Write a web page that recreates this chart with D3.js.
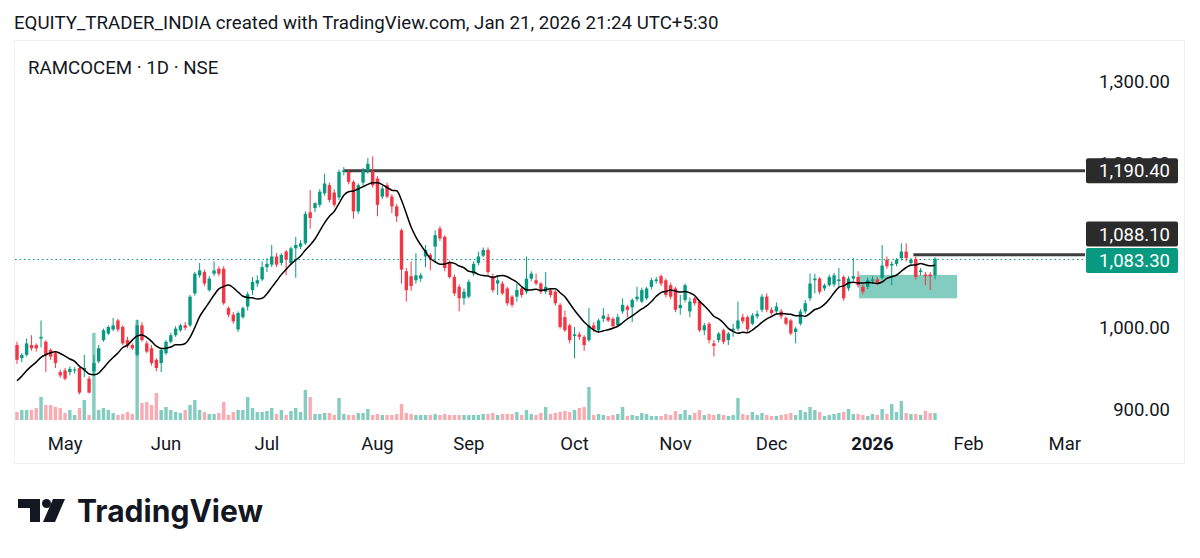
<!DOCTYPE html>
<html>
<head>
<meta charset="utf-8">
<script src="https://cdn.jsdelivr.net/npm/d3@7"></script>
<style>
  html, body { margin: 0; padding: 0; background: #fff; }
  svg { display: block; font-family: Roboto, "Noto Sans", sans-serif; }
</style>
</head>
<body>
<svg id="chart" width="1200" height="558"></svg>
<script>
// daily bars, RAMCOCEM (NSE), mid-Apr 2025 .. 21 Jan 2026
var opens = [978,962,966,978,978,986,982,972,968,945,947,945,947,950,947,937,946,958,984,992,
  997,1008,1000,984,978,966,1002,980,974,960,956,968,982,990,996,1002,1002,1041,1063,1067,
  1045,1065,1071,1071,1023,1015,997,1012,1025,1045,1053,1058,1073,1076,1086,1078,1092,1078,1096,1098,
  1102,1140,1145,1149,1163,1173,1164,1158,1189,1189,1177,1141,1176,1190,1190,1181,1159,1173,1159,1147,
  1118,1068,1062,1057,1059,1086,1088,1098,1120,1110,1078,1061,1049,1035,1037,1065,1078,1087,1094,1062,
  1053,1053,1047,1037,1037,1047,1043,1059,1057,1053,1043,1045,1043,1027,1012,1002,989,991,988,984,
  1002,996,1010,1012,1010,1002,1019,1025,1024,1034,1031,1035,1049,1056,1062,1057,1051,1047,1023,1033,
  1019,1035,1031,996,1004,980,984,996,984,996,998,1012,1012,1004,1013,1021,1037,1021,1019,1019,
  1011,1008,994,1004,1019,1035,1057,1059,1047,1051,1052,1056,1061,1047,1059,1061,1049,1049,1056,1058,
  1060,1082,1075,1077,1084,1092,1078,1083,1067,1064,1064,1063];
var highs = [982,968,986,990,980,1008,984,974,970,948,950,952,951,952,966,940,966,978,998,1002,
  1011,1010,1002,988,980,1009,1006,983,978,962,974,984,993,1001,1004,1006,1039,1067,1078,1070,
  1062,1080,1074,1074,1025,1018,1019,1025,1043,1061,1063,1080,1084,1100,1090,1090,1094,1098,1110,1106,
  1141,1167,1152,1168,1187,1176,1168,1192,1195,1192,1179,1175,1194,1206,1208,1184,1172,1176,1162,1150,
  1120,1072,1080,1090,1066,1100,1090,1118,1123,1112,1081,1064,1052,1047,1058,1080,1092,1097,1097,1065,
  1063,1056,1049,1039,1053,1050,1086,1068,1065,1055,1067,1047,1045,1029,1020,1004,1000,994,990,1023,
  1006,1010,1023,1016,1012,1016,1035,1027,1035,1049,1048,1049,1060,1061,1064,1059,1054,1049,1039,1053,
  1036,1037,1033,1005,1006,984,994,998,994,1004,1031,1016,1014,1017,1020,1040,1041,1024,1030,1022,
  1013,1010,1000,1022,1033,1065,1065,1061,1053,1064,1066,1072,1063,1062,1084,1068,1052,1060,1062,1061,
  1100,1086,1080,1084,1102,1102,1084,1086,1072,1067,1067,1085];
var lows = [955,957,964,971,970,975,945,960,950,938,935,941,943,918,939,919,941,956,982,990,
  995,994,978,974,972,964,982,968,953,946,945,966,980,988,994,996,1000,1038,1060,1050,
  1043,1062,1062,1027,1012,1004,994,1010,1020,1039,1049,1056,1067,1073,1073,1075,1063,1076,1060,1095,
  1100,1120,1140,1146,1160,1152,1146,1155,1185,1174,1132,1138,1173,1187,1170,1135,1156,1157,1139,1128,
  1053,1031,1044,1053,1055,1073,1069,1078,1105,1068,1059,1038,1019,1027,1035,1062,1075,1085,1064,1042,
  1039,1039,1026,1024,1031,1036,1040,1056,1051,1040,1040,1036,1026,998,994,980,962,984,971,982,
  994,993,1006,1006,998,1000,1016,1012,1006,1031,1029,1033,1046,1053,1050,1036,1034,1018,1015,1030,
  1012,1026,994,990,980,964,981,979,978,988,995,1004,994,1002,1010,1018,1018,1014,1016,1010,
  1002,990,980,1002,1016,1032,1041,1040,1044,1049,1049,1049,1032,1044,1056,1048,1040,1046,1053,1051,
  1058,1071,1051,1074,1081,1080,1075,1058,1063,1051,1045,1058];
var closes = [960,966,980,974,974,988,966,964,956,941,937,949,948,920,950,920,956,974,996,1000,
  1002,997,980,977,974,1002,984,970,956,950,972,982,990,998,1002,999,1037,1065,1069,1053,
  1059,1069,1065,1029,1015,1007,1017,1023,1040,1055,1057,1073,1077,1086,1076,1088,1082,1096,1100,1102,
  1138,1133,1151,1165,1175,1155,1149,1189,1191,1177,1141,1173,1191,1199,1173,1149,1169,1159,1147,1135,
  1070,1045,1050,1063,1063,1094,1084,1112,1108,1072,1061,1041,1035,1043,1055,1077,1086,1094,1067,1045,
  1057,1041,1029,1027,1045,1039,1059,1065,1053,1043,1049,1039,1029,1000,996,984,991,988,978,1002,
  997,1008,1014,1008,1001,1012,1027,1021,1033,1037,1045,1047,1057,1058,1053,1039,1037,1021,1027,1051,
  1031,1029,996,1002,984,977,992,982,992,998,1008,1007,997,1014,1016,1037,1021,1017,1025,1013,
  1004,992,998,1019,1029,1053,1059,1043,1051,1061,1063,1058,1035,1059,1062,1051,1043,1057,1058,1054,
  1075,1074,1077,1082,1092,1084,1082,1061,1069,1062,1062,1083.3];
// thousand shares
var volumes = [320,400,400,400,480,920,600,600,520,480,280,400,200,480,800,200,3480,400,480,400,
  280,200,240,320,240,4000,680,720,600,1080,400,520,400,320,280,400,600,800,400,320,
  240,240,280,720,200,320,400,400,920,480,
  320,320,360,480,240,400,200,360,480,320,1200,920,240,240,280,280,200,880,240,200,
  200,280,280,440,200,240,200,200,200,240,640,280,240,200,200,200,200,240,200,240,
  200,200,200,200,200,200,200,
  240,240,280,200,240,240,240,320,200,400,240,200,280,520,240,280,320,360,320,400,
  480,520,1320,200,240,200,160,200,240,520,160,200,160,280,240,160,160,160,240,200,
  360,240,400,200,280,400,200,240,
  200,240,200,160,200,880,240,200,320,200,280,200,160,160,200,240,280,200,400,320,
  520,400,320,160,200,240,280,320,440,240,240,200,160,240,200,440,240,640,320,760,
  280,240,240,200,360,280,280];
// closes of the bars just left of the visible window (feed the moving average)
var priorCloses = [915,920,925,930,935,938,942,945];

var monthTicks = [10,31,52,75,94,116,137,157,178,198,218];
var monthLabels = ["May","Jun","Jul","Aug","Sep","Oct","Nov","Dec","2026","Feb","Mar"];
// 1,100.00 sits fully under the price tags, so it is left out
var priceTicks = [900,1000,1200,1300];

var resistance = {price: 1190.4, from: 68};
var recentHigh = {price: 1088.1, from: 186.5};
var zone = {from: 175.2, to: 195.6, top: 1063.5, bottom: 1035};
var maPeriod = 9;

var GREEN = "#089981", RED = "#f23645", INK = "#131722";

var svg = d3.select("#chart");
var paneL = 15, paneR = 1085, paneT = 41, paneB = 430;

var x = d3.scaleLinear().domain([0, closes.length - 1]).range([17, 935]);
var y = d3.scaleLinear().domain([900, 1300]).range([409, 81]);
var yv = d3.scaleLinear().domain([0, 4000]).range([420, 320]);

var bars = closes.map(function(c, i){
  return {i: i, o: opens[i], h: highs[i], l: lows[i], c: c, v: volumes[i]};
});

// moving average
var allC = priorCloses.concat(closes);
var ma = closes.map(function(c, i){
  var k = i + priorCloses.length;
  return {i: i, v: d3.mean(allC.slice(k - maPeriod + 1, k + 1))};
});

// frame
svg.append("rect").attr("x", 14.5).attr("y", 40.5).attr("width", 1170).attr("height", 423)
  .attr("fill", "none").attr("stroke", "#eef0f3");

svg.append("text").attr("x", 14).attr("y", 29)
  .attr("font-size", 18.7).attr("fill", INK)
  .text("EQUITY_TRADER_INDIA created with TradingView.com, Jan 21, 2026 21:24 UTC+5:30");

svg.append("text").attr("x", 28).attr("y", 74)
  .attr("font-size", 18.7).attr("fill", INK)
  .text("RAMCOCEM \u00b7 1D \u00b7 NSE");

var defs = svg.append("defs");
defs.append("clipPath").attr("id", "pane")
  .append("rect").attr("x", paneL).attr("y", paneT).attr("width", paneR - paneL).attr("height", paneB - paneT);

var g = svg.append("g").attr("clip-path", "url(#pane)");

// volume
g.append("g").selectAll("rect").data(bars).enter().append("rect")
  .attr("x", function(d){ return x(d.i) - 1.7; })
  .attr("width", 3.4)
  .attr("y", function(d){ return yv(d.v); })
  .attr("height", function(d){ return yv(0) - yv(d.v); })
  .attr("fill", function(d){ return d.c >= d.o ? "rgba(8,153,129,0.5)" : "rgba(242,54,69,0.42)"; });

// zone
g.append("rect")
  .attr("x", x(zone.from)).attr("width", x(zone.to) - x(zone.from))
  .attr("y", y(zone.top)).attr("height", y(zone.bottom) - y(zone.top))
  .attr("fill", "rgba(8,153,129,0.5)");

// last price dotted line
g.append("line")
  .attr("x1", paneL).attr("x2", paneR)
  .attr("y1", Math.round(y(1083.3)) + 0.5).attr("y2", Math.round(y(1083.3)) + 0.5)
  .attr("stroke", GREEN).attr("stroke-width", 1).attr("stroke-dasharray", "1.5,3");

// horizontal rays
[resistance, recentHigh].forEach(function(r){
  g.append("line")
    .attr("x1", x(r.from)).attr("x2", paneR)
    .attr("y1", y(r.price)).attr("y2", y(r.price))
    .attr("stroke", "#3e3e3e").attr("stroke-width", 3);
});

// candles
var cg = g.append("g").selectAll("g").data(bars).enter().append("g");
cg.append("line")
  .attr("x1", function(d){ return x(d.i); }).attr("x2", function(d){ return x(d.i); })
  .attr("y1", function(d){ return y(d.h); }).attr("y2", function(d){ return y(d.l); })
  .attr("stroke", function(d){ return d.c >= d.o ? GREEN : RED; }).attr("stroke-width", 1);
cg.append("rect")
  .attr("x", function(d){ return x(d.i) - 1.7; })
  .attr("width", 3.4)
  .attr("y", function(d){ return y(Math.max(d.o, d.c)); })
  .attr("height", function(d){ return Math.max(1, Math.abs(y(d.o) - y(d.c))); })
  .attr("fill", function(d){ return d.c >= d.o ? GREEN : RED; });

// MA
g.append("path").datum(ma)
  .attr("fill", "none").attr("stroke", "#000").attr("stroke-width", 1.5)
  .attr("d", d3.line().curve(d3.curveMonotoneX).x(function(d){ return x(d.i); }).y(function(d){ return y(d.v); }));

// price axis
svg.append("g").selectAll("text").data(priceTicks).enter().append("text")
  .attr("x", 1170).attr("y", function(d){ return y(d) + 6.5; })
  .attr("text-anchor", "end").attr("font-size", 18.5).attr("fill", INK)
  .text(function(d){ return d3.format(",.2f")(d); });

var tags = [
  {price: 1190.4, yc: y(1190.4), fill: "#2b2b2b"},
  {price: 1088.1, yc: 234, fill: "#2b2b2b"},
  {price: 1083.3, yc: 260.5, fill: GREEN}
];
var tg = svg.append("g").selectAll("g").data(tags).enter().append("g");
tg.append("rect")
  .attr("x", 1086).attr("width", 92)
  .attr("y", function(d){ return d.yc - 12.5; }).attr("height", 25)
  .attr("rx", 2).attr("fill", function(d){ return d.fill; });
tg.append("text")
  .attr("x", 1170).attr("y", function(d){ return d.yc + 6.5; })
  .attr("text-anchor", "end").attr("font-size", 18.5).attr("fill", "#fff")
  .text(function(d){ return d3.format(",.2f")(d.price); });

// time axis
svg.append("g").selectAll("text").data(monthTicks).enter().append("text")
  .attr("x", function(d){ return x(d); }).attr("y", 449.5)
  .attr("text-anchor", "middle").attr("font-size", 18.5).attr("fill", INK)
  .attr("font-weight", function(d, i){ return monthLabels[i] === "2026" ? 700 : 400; })
  .text(function(d, i){ return monthLabels[i]; });

// TradingView logo
var logo = svg.append("g").attr("fill", INK);
logo.append("path").attr("d", "M18,499 H40 V522 H30 V508 H18 Z");
logo.append("circle").attr("cx", 46.5).attr("cy", 503.5).attr("r", 4.5);
logo.append("path").attr("d", "M53,499 H65 L55,522 H43 Z");
logo.append("text").attr("x", 77).attr("y", 522)
  .attr("font-family", "Inter, Roboto, sans-serif").attr("font-weight", 700)
  .attr("font-size", 31).attr("textLength", 186).attr("lengthAdjust", "spacingAndGlyphs")
  .text("TradingView");
</script>
</body>
</html>
